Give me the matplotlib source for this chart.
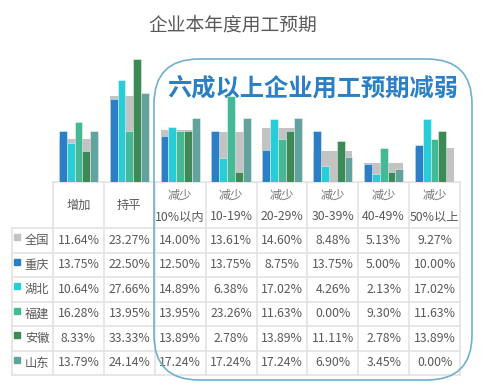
import matplotlib
matplotlib.use("Agg")
import matplotlib.pyplot as plt
from matplotlib.patches import FancyBboxPatch, Rectangle
import numpy as np

plt.rcParams['font.family'] = ['Noto Sans CJK SC', 'DejaVu Sans']

title = "企业本年度用工预期"
annotation = "六成以上企业用工预期减弱"
categories = ["增加", "持平", "减少\n10%以内", "减少\n10-19%", "减少\n20-29%",
              "减少\n30-39%", "减少\n40-49%", "减少\n50%以上"]
national_name = "全国"
national = [11.64, 23.27, 14.00, 13.61, 14.60, 8.48, 5.13, 9.27]
region_names = ["重庆", "湖北", "福建", "安徽", "山东"]
chongqing = [13.75, 22.50, 12.50, 13.75, 8.75, 13.75, 5.00, 10.00]
hubei = [10.64, 27.66, 14.89, 6.38, 17.02, 4.26, 2.13, 17.02]
fujian = [16.28, 13.95, 13.95, 23.26, 11.63, 0.00, 9.30, 11.63]
anhui = [8.33, 33.33, 13.89, 2.78, 13.89, 11.11, 2.78, 13.89]
shandong = [13.79, 24.14, 17.24, 17.24, 17.24, 6.90, 3.45, 0.00]
regions = [chongqing, hubei, fujian, anhui, shandong]

national_color = "#c3c3c3"
region_colors = ["#2b80c5", "#29cdd8", "#45b995", "#3d8a57", "#62a39d"]

W, H = 482, 391
fig = plt.figure(figsize=(W / 100, H / 100), dpi=100)

# overlay axes in pixel coordinates
ov = fig.add_axes([0, 0, 1, 1])
ov.set_xlim(0, W)
ov.set_ylim(H, 0)
ov.axis("off")

# chart axes
x0, x1 = 53, 460
base_y, top_y = 182, 40
px_per = 3.69
ax = fig.add_axes([x0 / W, 1 - base_y / H, (x1 - x0) / W, (base_y - top_y) / H])
ax.set_xlim(-0.5, len(categories) - 0.5)
ax.set_ylim(0, (base_y - top_y) / px_per)
ax.axis("off")
ax.patch.set_alpha(0)

x = np.arange(len(categories))
group_w = 0.77
bw = group_w / 5
ax.bar(x, national, width=group_w, color=national_color, zorder=1)
for i, (vals, c) in enumerate(zip(regions, region_colors)):
    ax.bar(x - group_w / 2 + bw * (i + 0.5), vals, width=bw, color=c,
           edgecolor=(1, 1, 1, 0.6), linewidth=0.5, zorder=2)

# title and annotation
ov.text(233, 25, title, ha="center", va="center", fontsize=13.5, color="#595959")
ov.text(313, 89, annotation, ha="center", va="center", fontsize=17.5,
        fontweight="bold", color="#2b7fc4", zorder=5)

# table
col_w = (x1 - x0) / len(categories)
row_ys = [228, 252.5, 277, 301.5, 326, 350.5, 375]
grid_c = "#e3e3e3"
lw = 1.2
ov.plot([x0, x1], [base_y, base_y], color=grid_c, lw=lw)
for y in row_ys:
    ov.plot([12, x1], [y, y], color=grid_c, lw=lw)
for i in range(len(categories) + 1):
    xx = x0 + i * col_w
    ov.plot([xx, xx], [base_y, row_ys[-1]], color=grid_c, lw=lw)
ov.plot([12, 12], [row_ys[0], row_ys[-1]], color=grid_c, lw=lw)

txt_c = "#595959"
fs = 8.8
for j, cat in enumerate(categories):
    cx = x0 + (j + 0.5) * col_w
    lines = cat.split("\n")
    if len(lines) == 1:
        ov.text(cx, 205, lines[0], ha="center", va="center", fontsize=fs, color=txt_c)
    else:
        ov.text(cx, 195, lines[0], ha="center", va="center", fontsize=fs, color="#777777")
        ov.text(cx, 217, lines[1], ha="center", va="center", fontsize=fs, color=txt_c)

names = [national_name] + region_names
colors = [national_color] + region_colors
series = [national] + regions
for r, (nm, c, vals) in enumerate(zip(names, colors, series)):
    yc = (row_ys[r] + row_ys[r + 1]) / 2
    ov.add_patch(Rectangle((14, yc - 6), 6, 6, color=c))
    ov.text(37, yc + 0.5, nm, ha="center", va="center", fontsize=fs, color=txt_c)
    for j, v in enumerate(vals):
        cx = x0 + (j + 0.5) * col_w
        ov.text(cx, yc, f"{v:.2f}%", ha="center", va="center", fontsize=fs, color=txt_c)

# rounded highlight box
box = FancyBboxPatch((154 + 45, 59 + 45), 472 - 154 - 90, 380 - 59 - 90,
                     boxstyle="round,pad=45", fill=False, edgecolor="#6fb0cf",
                     linewidth=1.2, zorder=6)
ov.add_patch(box)

fig.savefig("out.png", dpi=100)
